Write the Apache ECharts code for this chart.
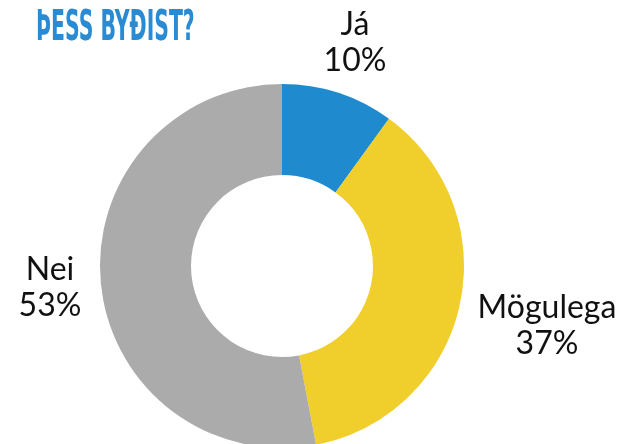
<!DOCTYPE html>
<html>
<head>
<meta charset="utf-8">
<script src="https://cdn.jsdelivr.net/npm/echarts@6/dist/echarts.min.js"></script>
<style>
  html, body { margin: 0; padding: 0; background: #fff; }
  .main { width: 621px; height: 444px; }
</style>
</head>
<body>
<div class="main"></div>
<script>
const categories = ['Já', 'Mögulega', 'Nei'];
const values = [10, 37, 53];
const colors = ['#1f8bce', '#f0ce2b', '#ababab'];

// where each label block sits (centre point)
const labelSpots = [[355, 43], [547, 326], [50, 288]];

let myChart = echarts.init(document.querySelector('.main'));

let option = {
  animation: false,
  graphic: [{
    type: 'text',
    x: 36,
    y: 8,
    scaleX: 0.54,
    style: {
      text: 'ÞESS BYÐIST?',
      fill: '#2a8bd2',
      font: 'bold 42px "Liberation Sans Narrow", "DejaVu Sans Condensed", sans-serif',
      textVerticalAlign: 'top'
    }
  }],
  series: [{
    type: 'pie',
    center: [282, 266],
    radius: [91, 182],
    startAngle: 90,
    clockwise: true,
    silent: true,
    itemStyle: { borderWidth: 0 },
    label: {
      show: true,
      position: 'outside',
      formatter: p => p.name + '\n' + p.value + '%',
      fontFamily: 'Lato, "Noto Sans", sans-serif',
      fontSize: 32,
      lineHeight: 36,
      color: '#111',
      align: 'center',
      overflow: 'none'
    },
    labelLine: { show: false },
    labelLayout: p => ({
      x: labelSpots[p.dataIndex][0],
      y: labelSpots[p.dataIndex][1],
      align: 'center',
      verticalAlign: 'middle'
    }),
    data: categories.map((c, i) => ({
      name: c,
      value: values[i],
      itemStyle: { color: colors[i] }
    }))
  }]
};

myChart.setOption(option);
</script>
</body>
</html>
